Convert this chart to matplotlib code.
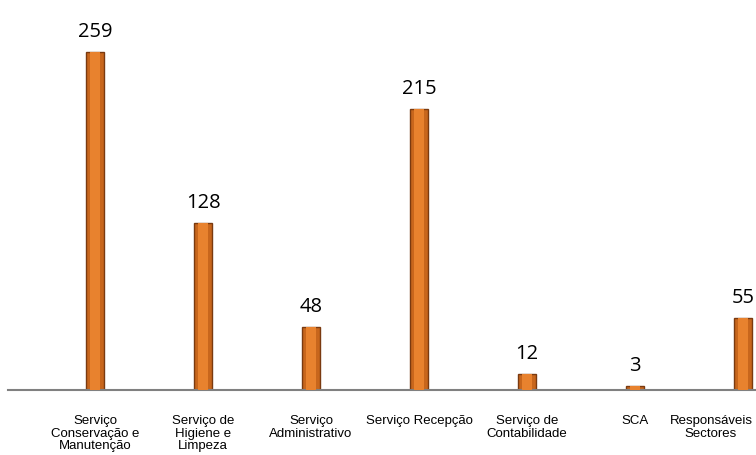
import matplotlib.pyplot as plt
from matplotlib.transforms import ScaledTranslation

categories = ["Serviço\nConservação e\nManutenção", "Serviço de\nHigiene e\nLimpeza",
              "Serviço\nAdministrativo", "Serviço Recepção", "Serviço de\nContabilidade",
              "SCA", "Responsáveis\nSectores"]
values = [259, 128, 48, 215, 12, 3, 55]

fig = plt.figure(figsize=(7.56, 4.56), dpi=100)
ax = fig.add_axes([8 / 756, 65 / 456, 748 / 756, 391 / 456])

x = list(range(len(values)))
# outer darker bar, then lighter stripe for the cylinder look
ax.bar(x, values, width=0.17, color="#c8661c", edgecolor="#7a3a10", linewidth=1.0, zorder=2)
ax.bar(x, values, width=0.09, color="#e8822e", linewidth=0, zorder=3)

for xi, v in zip(x, values):
    ax.annotate(str(v), (xi, v), xytext=(0, 8), textcoords="offset points",
                ha="center", va="bottom", fontsize=14.5, family=["Open Sans", "DejaVu Sans"])

ax.set_xlim(-0.806, 6.12)
ax.set_ylim(0, 299.6)
ax.set_yticks([])
ax.set_xticks(x)
ax.set_xticklabels(categories, fontsize=9.5, family=["Liberation Sans", "DejaVu Sans"],
                   linespacing=1.1)
ax.tick_params(axis="x", length=0, pad=17)
# last label sits shifted left so it fits inside the picture
last = ax.get_xticklabels()[-1]
last.set_transform(last.get_transform() + ScaledTranslation(-32 / 100, 0, fig.dpi_scale_trans))

for s in ["top", "right", "left"]:
    ax.spines[s].set_visible(False)
ax.spines["bottom"].set_color("#808080")
ax.spines["bottom"].set_linewidth(1.5)

fig.savefig("out.png", dpi=100)
